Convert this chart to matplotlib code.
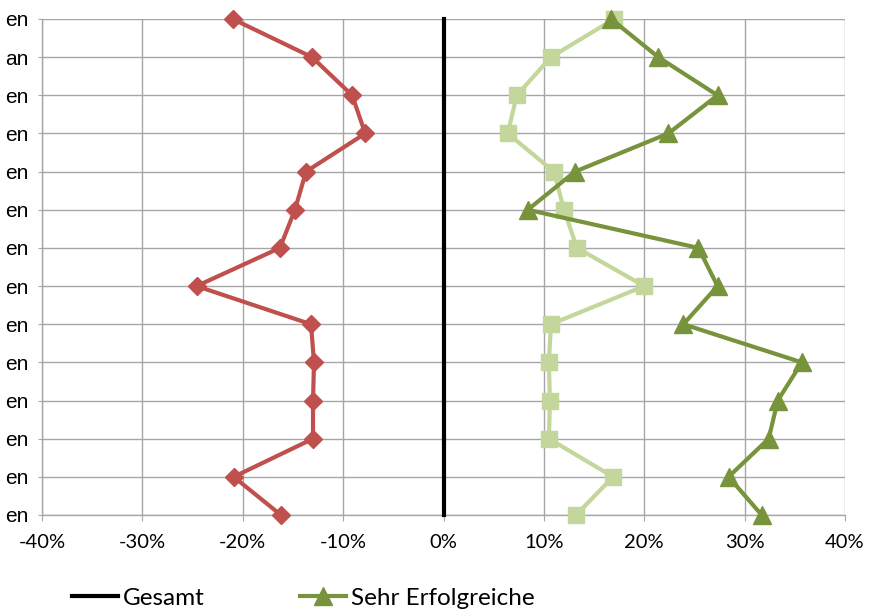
import matplotlib
matplotlib.use("Agg")
import matplotlib.pyplot as plt
from matplotlib.lines import Line2D

# Kategorien (links abgeschnitten im Original, nur Endungen sichtbar)
categories = ["en", "an", "en", "en", "en", "en", "en",
              "en", "en", "en", "en", "en", "en", "en"]

gesamt = [0.0] * 14
weniger = [-21.0, -13.1, -9.1, -7.8, -13.7, -14.8, -16.3,
           -24.6, -13.2, -12.9, -13.0, -13.0, -20.9, -16.2]
erfolgreiche = [17.0, 10.7, 7.3, 6.4, 11.0, 12.0, 13.3,
                20.0, 10.7, 10.5, 10.6, 10.5, 16.9, 13.2]
sehr_erfolgreiche = [16.7, 21.4, 27.3, 22.4, 13.1, 8.4, 25.4,
                     27.3, 23.9, 35.7, 33.3, 32.4, 28.4, 31.7]

xticks = [-40, -30, -20, -10, 0, 10, 20, 30, 40]

tick_font = ["Lato", "DejaVu Sans"]
label_font = ["Liberation Sans", "DejaVu Sans"]

fig = plt.figure(figsize=(8.85, 6.09), dpi=100)
ax = fig.add_axes([42 / 885, 1 - 515 / 609, (845 - 42) / 885, (515 - 19) / 609])

y = list(range(len(categories)))
grid_c = "#A6A6A6"

ax.plot(gesamt, y, color="black", lw=3, zorder=3, clip_on=False)
ax.plot(weniger, y, color="#C0504D", lw=3, marker="D", markersize=9,
        zorder=4, clip_on=False)
ax.plot(erfolgreiche, y, color="#C3D69B", lw=3, marker="s", markersize=12,
        zorder=4, clip_on=False)
ax.plot(sehr_erfolgreiche, y, color="#77933C", lw=3, marker="^", markersize=13,
        zorder=5, clip_on=False)

ax.set_xlim(-40, 40)
ax.set_ylim(len(categories) - 1, 0)
ax.set_xticks(xticks)
ax.set_xticklabels([f"{v}%" for v in xticks], family=tick_font, fontsize=14.5)
ax.set_yticks(y)
ax.set_yticklabels(categories, family=label_font, fontsize=15)

ax.grid(True, color=grid_c, lw=1, zorder=0)
ax.set_axisbelow(True)
for s in ["top", "right"]:
    ax.spines[s].set_visible(False)
for s in ["left", "bottom"]:
    ax.spines[s].set_color(grid_c)
    ax.spines[s].set_linewidth(1)
ax.tick_params(axis="x", length=4, color=grid_c, pad=10)
ax.tick_params(axis="y", length=3, color=grid_c, pad=7)

handles = [Line2D([], [], color="black", lw=3),
           Line2D([], [], color="#77933C", lw=3, marker="^", markersize=13)]
fig.legend(handles, ["Gesamt", "Sehr Erfolgreiche"], loc="center left",
           bbox_to_anchor=(72 / 885, 1 - 598 / 609), ncol=2, frameon=False,
           prop={"family": tick_font, "size": 17.5}, handlelength=1.9,
           handletextpad=0.2, columnspacing=3.9, borderpad=0, borderaxespad=0)

fig.savefig("out.png", dpi=100)
